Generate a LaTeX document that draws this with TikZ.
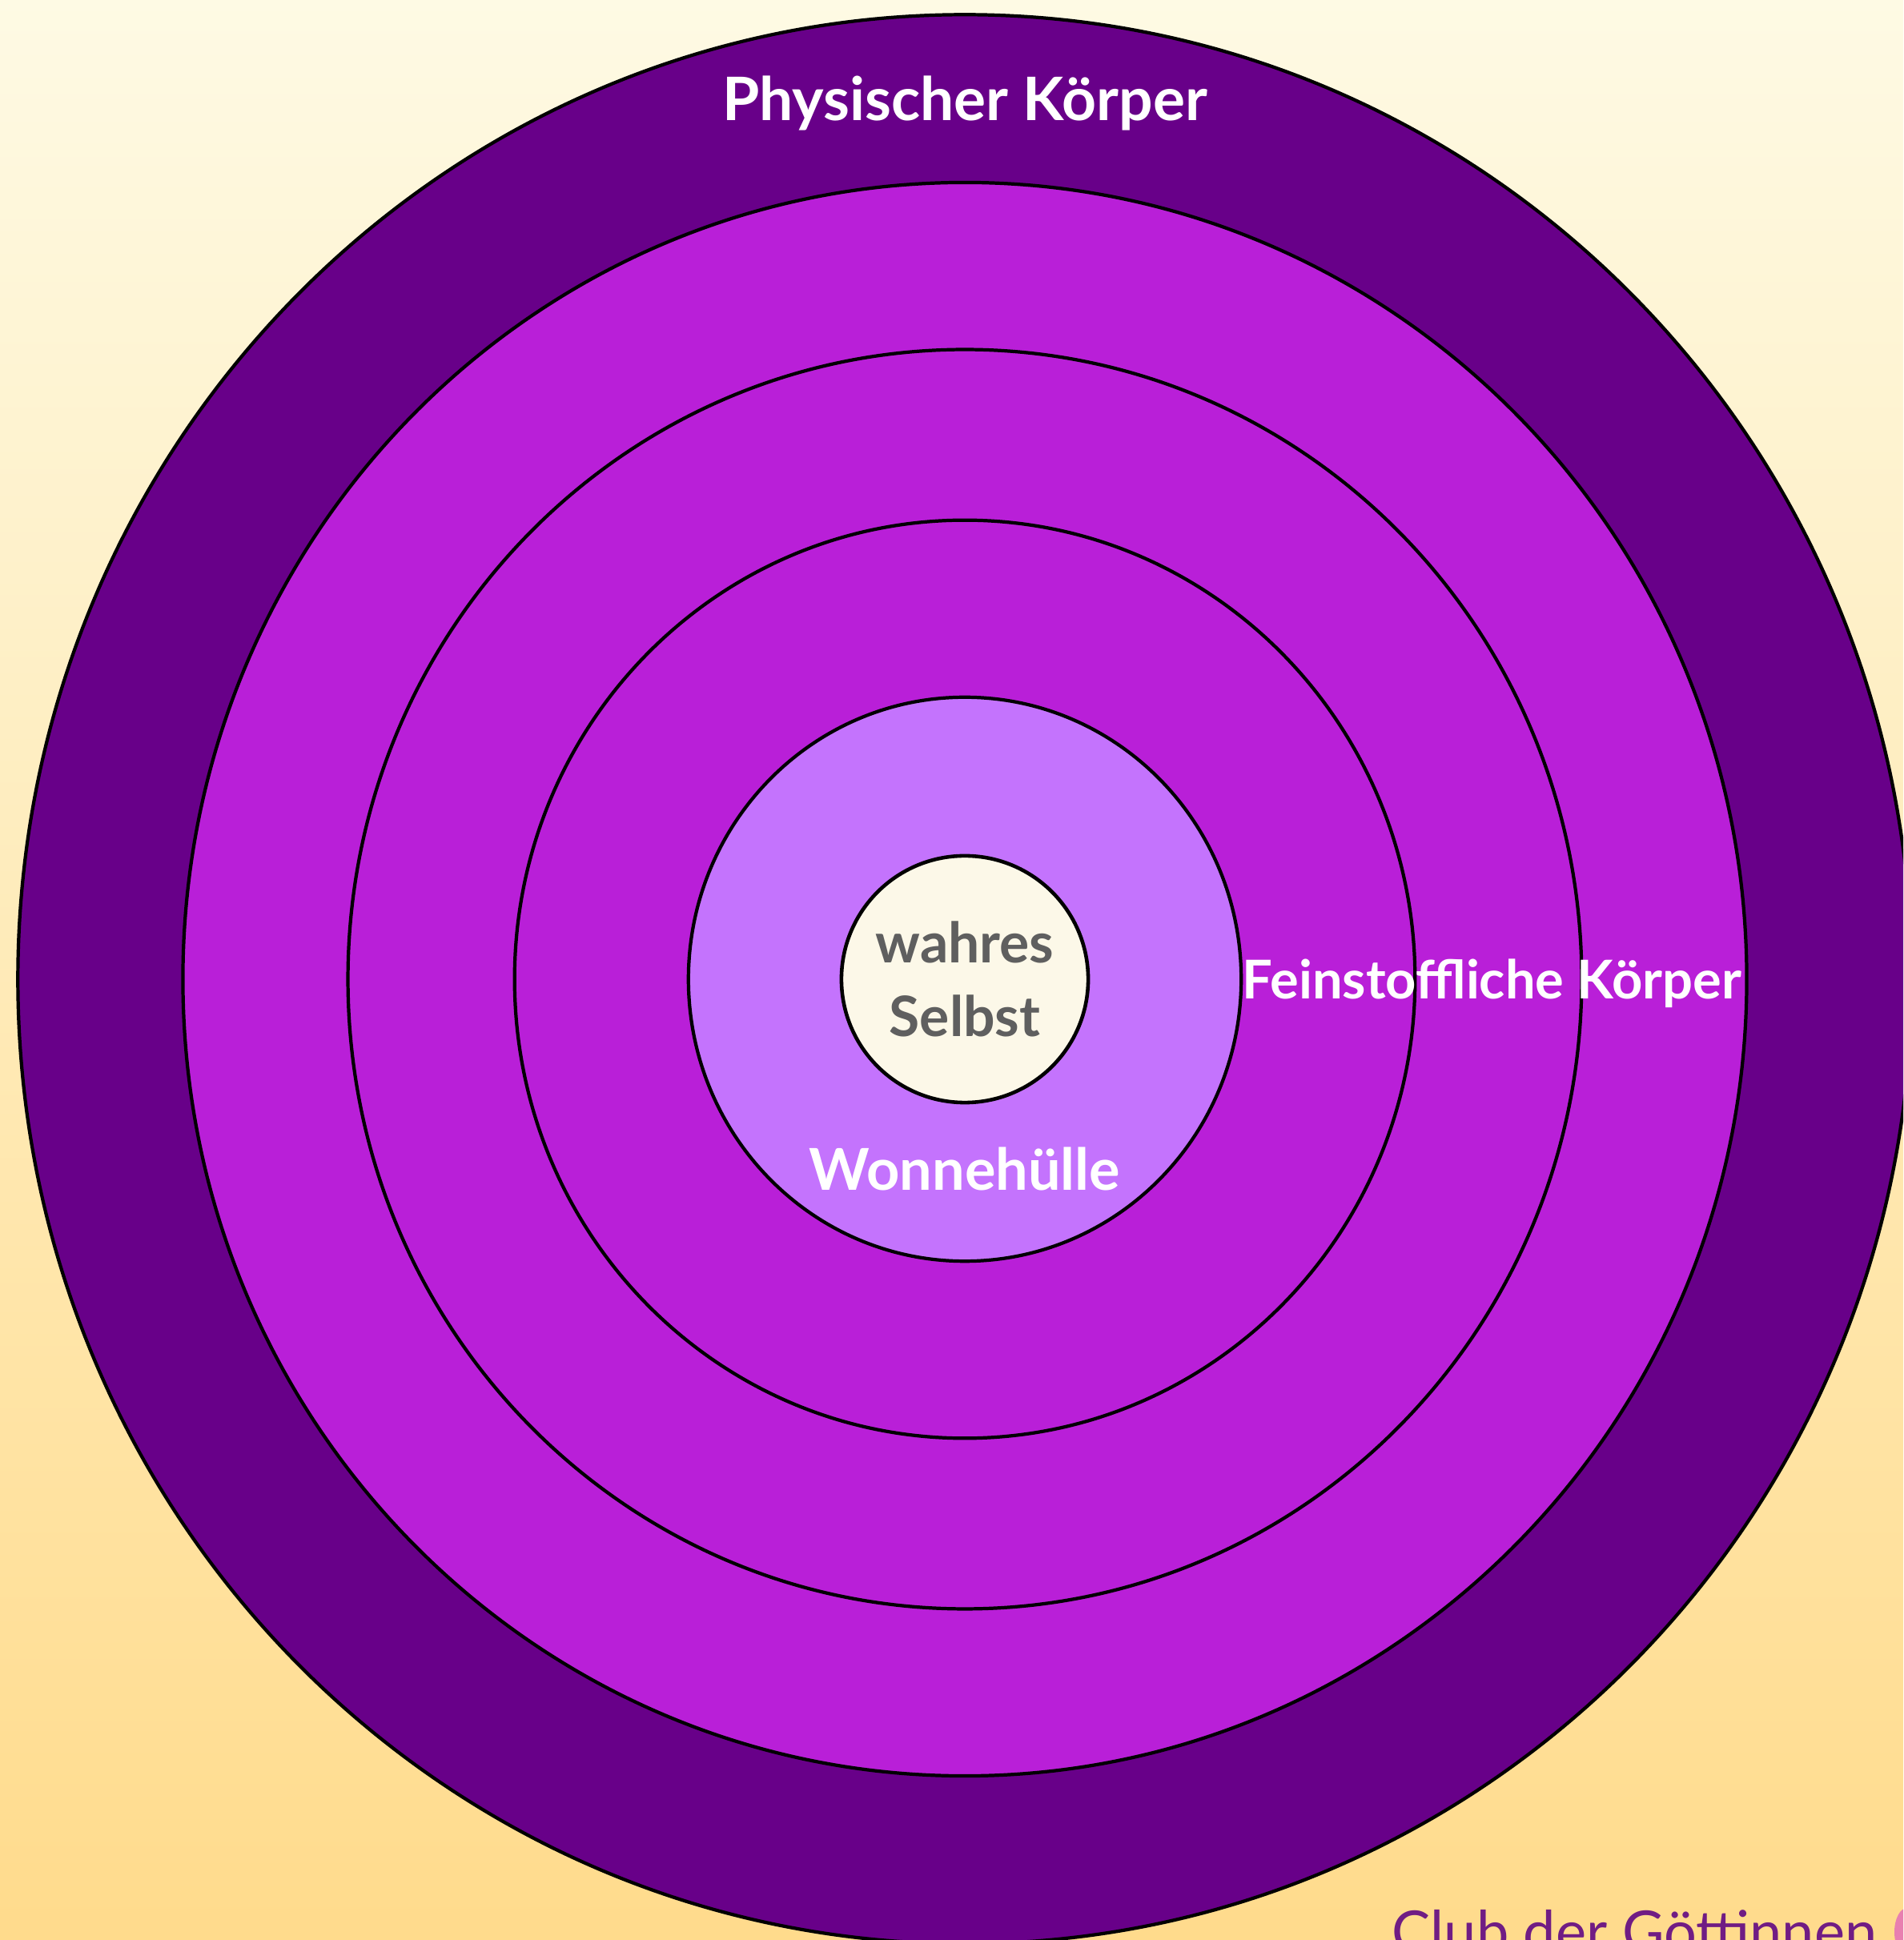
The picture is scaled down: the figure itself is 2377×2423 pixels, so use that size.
\documentclass[tikz,border=0pt]{standalone}
\usepackage{fontspec}
\setmainfont{Lato}
\usepackage{tikz}
\usetikzlibrary{shapes.geometric,positioning}
\definecolor{bgtop}{HTML}{FEFAE4}
\definecolor{bgbot}{HTML}{FFDB8C}
\definecolor{physisch}{HTML}{680089}
\definecolor{feinst}{HTML}{B91FD8}
\definecolor{wonne}{HTML}{C473FD}
\definecolor{kern}{HTML}{FCF8E8}
\definecolor{grau}{HTML}{5F5F5F}
\definecolor{club}{HTML}{701C84}
\definecolor{bluete}{HTML}{E87FB0}
\tikzset{
  ring/.style={draw=black,line width=1.2pt,ellipse,inner sep=0pt},
  core/.style={draw=black,line width=1.3pt,circle,fill=kern,inner sep=0pt,
    minimum size=3.08cm,align=center,text=grau,font=\bfseries\fontsize{19.8}{26}\selectfont},
  schicht/.style={text=white,font=\bfseries\fontsize{19}{23}\selectfont,inner sep=0pt,anchor=base},
  marke/.style={text=club,font=\fontsize{20.5}{24}\selectfont,inner sep=0pt,anchor=base west}
}
\begin{document}
\begin{tikzpicture}[x=0.01cm,y=0.01cm]
  \useasboundingbox (0,0) rectangle (2377,2423);
  \clip (0,0) rectangle (2377,2423);
  \shade[top color=bgtop,bottom color=bgbot] (0,0) rectangle (2377,2423);
  % Huellen von aussen nach innen
  \node[ring,fill=physisch,minimum width=23.64cm,minimum height=24.08cm] (r1) at (1205,1200) {};
  \node[ring,fill=feinst,minimum width=19.52cm,minimum height=19.89cm] (r2) at (r1.center) {};
  \node[ring,fill=feinst,minimum width=15.40cm,minimum height=15.72cm] (r3) at (r1.center) {};
  \node[ring,fill=feinst,minimum width=11.24cm,minimum height=11.46cm] (r4) at (r1.center) {};
  \node[ring,fill=wonne,minimum width=6.90cm,minimum height=7.04cm] (r5) at (r1.center) {};
  \node[core] (selbst) at (r1.center) {wahres\\Selbst};
  % Beschriftungen
  \node[schicht,font=\bfseries\fontsize{21.3}{25}\selectfont] (phys) at (1205,2272) {Physischer Körper};
  \node[schicht,anchor=base west] (fein) at (1551,1175) {Feinstoffliche Körper};
  \node[schicht,font=\bfseries\fontsize{20.5}{24}\selectfont] (wonn) at (1205,936) {Wonnehülle};
  \node[marke] (cdg) at (1738,-15) {Club der Göttinnen};
  \fill[bluete] (2382,10) ellipse (16 and 30);
\end{tikzpicture}
\end{document}
